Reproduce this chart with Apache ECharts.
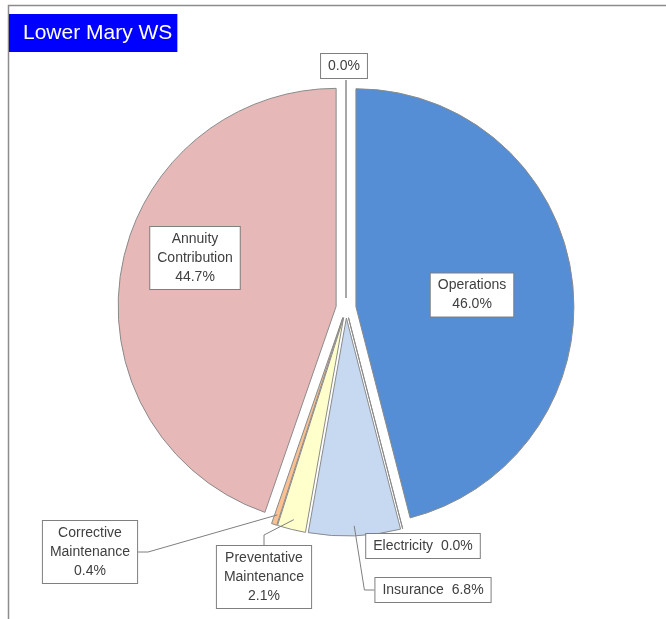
<!DOCTYPE html>
<html lang="en">
<head>
    <meta charset="UTF-8">
    <title>Lower Mary WS</title>
    <style>
        html, body, #container {
            width: 100%;
            height: 100%;
            margin: 0;
            padding: 0;
            background: #fff;
        }
    </style>
    <script src="https://cdn.jsdelivr.net/npm/echarts@6/dist/echarts.min.js"></script>
</head>
<body>
    <div id="container"></div>
    <script>
        // cost categories, clockwise from 12 o'clock (last one is the empty slice at the top)
        var categories = ['Operations', 'Electricity', 'Insurance', 'Preventative Maintenance',
            'Corrective Maintenance', 'Annuity Contribution', ''];
        var shares = [46.0, 0.0, 6.8, 2.1, 0.4, 44.7, 0.0];

        var colors = ['#558ed5', '#4f81bd', '#c6d9f1', '#ffffcc', '#fac090', '#e6b9b8', '#8eb4e3'];

        // label text and where each label box sits
        var labelText = {
            'Operations': 'Operations\n{v}',
            'Electricity': 'Electricity  {v}',
            'Insurance': 'Insurance  {v}',
            'Preventative Maintenance': 'Preventative\nMaintenance\n{v}',
            'Corrective Maintenance': 'Corrective\nMaintenance\n{v}',
            'Annuity Contribution': 'Annuity\nContribution\n{v}',
            '': '{v}'
        };
        var labelSpots = {
            'Operations': [472, 295],
            'Electricity': [423, 546],
            'Insurance': [433, 590],
            'Preventative Maintenance': [264, 577],
            'Corrective Maintenance': [90, 552],
            'Annuity Contribution': [195, 258],
            '': [344, 66]
        };
        var withLine = ['Insurance', 'Preventative Maintenance', 'Corrective Maintenance'];

        var pieCenter = [346, 308];
        var pieRadius = 218;

        var chart = echarts.init(document.getElementById('container'));

        // exploded slices (selected state is what pushes them out)
        var sliceData = categories.map(function (name, i) {
            return {
                name: name,
                value: shares[i],
                selected: true,
                itemStyle: { color: colors[i] }
            };
        });

        // same slices again, unexploded and invisible, only to carry the labels
        // (labelLayout does not stick on selected items)
        var labelData = categories.map(function (name, i) {
            return {
                name: name,
                value: shares[i],
                labelLine: { show: withLine.indexOf(name) >= 0 }
            };
        });

        chart.setOption({
            animation: false,
            title: {
                text: 'Lower Mary WS',
                left: 9,
                top: 14,
                backgroundColor: '#0000ff',
                padding: [9, 5, 8, 14],
                textStyle: {
                    color: '#fff',
                    fontSize: 21,
                    fontWeight: 'normal',
                    fontFamily: 'Liberation Sans'
                }
            },
            graphic: [{
                type: 'polyline',
                silent: true,
                shape: { points: [[8.5, 640], [8.5, 5.5], [666, 5.5]] },
                style: { stroke: '#8c8c8c', lineWidth: 1.5, fill: null }
            }],
            series: [{
                type: 'pie',
                z: 2,
                center: pieCenter,
                radius: pieRadius,
                startAngle: 90,
                clockwise: true,
                selectedMode: 'multiple',
                selectedOffset: 10,
                silent: true,
                itemStyle: {
                    borderColor: '#8a8a8a',
                    borderWidth: 1
                },
                label: { show: false },
                labelLine: { show: false },
                data: sliceData
            }, {
                type: 'pie',
                z: 3,
                center: pieCenter,
                radius: pieRadius,
                startAngle: 90,
                clockwise: true,
                silent: true,
                selectedMode: false,
                avoidLabelOverlap: false,
                itemStyle: {
                    color: 'rgba(0,0,0,0)',
                    borderWidth: 0
                },
                label: {
                    show: true,
                    position: 'outside',
                    formatter: function (p) {
                        return labelText[p.name].replace('{v}', p.value.toFixed(1) + '%');
                    },
                    fontFamily: 'Liberation Sans',
                    fontSize: 14,
                    lineHeight: 19,
                    color: '#404040',
                    align: 'center',
                    backgroundColor: '#fff',
                    borderColor: '#7f7f7f',
                    borderWidth: 1,
                    padding: [3, 7, 2, 7]
                },
                labelLine: {
                    show: true,
                    length: 15,
                    length2: 10,
                    lineStyle: { color: '#7f7f7f', width: 1 }
                },
                labelLayout: function (p) {
                    var spot = labelSpots[categories[p.dataIndex]];
                    return {
                        x: spot[0],
                        y: spot[1],
                        align: 'center',
                        verticalAlign: 'middle'
                    };
                },
                data: labelData
            }]
        });
    </script>
</body>
</html>
